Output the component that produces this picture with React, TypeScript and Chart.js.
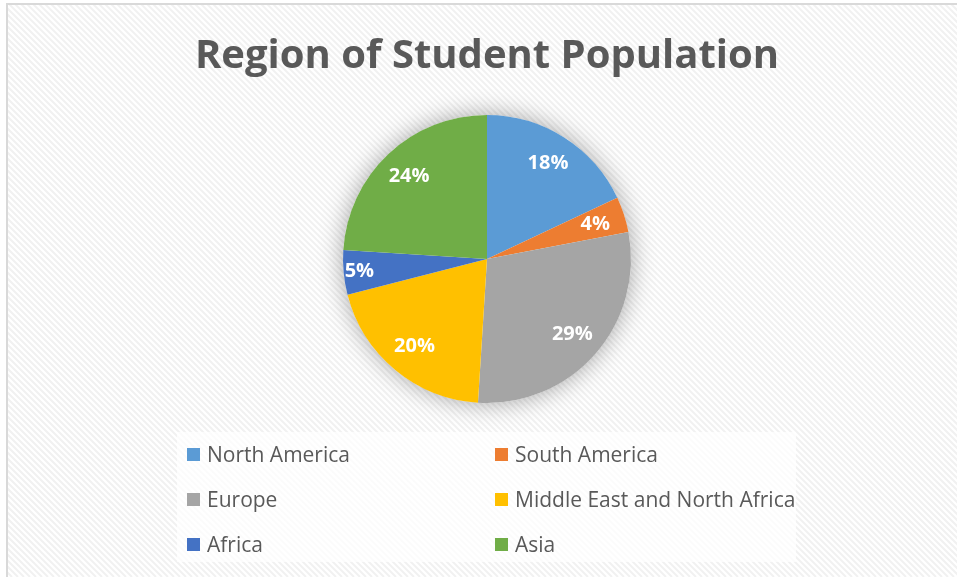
import React, { useEffect, useRef } from "react";
import { Chart, registerables } from "chart.js";

Chart.register(...registerables);

const chartTitle = "Region of Student Population";
const regions = [
  "North America",
  "South America",
  "Europe",
  "Middle East and North Africa",
  "Africa",
  "Asia",
];
const shares = [18, 4, 29, 20, 5, 24];
const sliceColors = ["#5B9BD5", "#ED7D31", "#A5A5A5", "#FFC000", "#4472C4", "#70AD47"];

const W = 957;
const H = 577;

const backgroundPlugin = {
  id: "excelBackground",
  beforeDraw(chart: any) {
    const { ctx, width, height } = chart;
    ctx.save();
    ctx.fillStyle = "#ffffff";
    ctx.fillRect(0, 0, width, height);
    ctx.beginPath();
    ctx.rect(7, 4, width, height);
    ctx.clip();
    ctx.strokeStyle = "#f1f1f1";
    ctx.lineWidth = 2;
    ctx.beginPath();
    for (let x = -height; x < width + 10; x += 6) {
      ctx.moveTo(x, 0);
      ctx.lineTo(x + height, height);
    }
    ctx.stroke();
    ctx.restore();
    ctx.save();
    ctx.fillStyle = "#d9d9d9";
    ctx.fillRect(6, 3, 2, height);
    ctx.fillRect(6, 3, width, 2);
    ctx.restore();
  },
  beforeDatasetsDraw(chart: any) {
    const arc = chart.getDatasetMeta(0).data[0];
    if (!arc) return;
    const { x, y, outerRadius } = arc.getProps(["x", "y", "outerRadius"], true);
    const { ctx } = chart;
    ctx.save();
    ctx.shadowColor = "rgba(0,0,0,0.35)";
    ctx.shadowBlur = 24;
    ctx.fillStyle = "#ffffff";
    ctx.beginPath();
    ctx.arc(x, y, outerRadius, 0, Math.PI * 2);
    ctx.fill();
    ctx.restore();
  },
  afterDatasetsDraw(chart: any) {
    const { ctx } = chart;
    const data: number[] = chart.data.datasets[0].data;
    const total = data.reduce((a, b) => a + b, 0);
    const meta = chart.getDatasetMeta(0);
    ctx.save();
    ctx.fillStyle = "#ffffff";
    ctx.font = "bold 20px 'Open Sans'";
    ctx.textAlign = "center";
    ctx.textBaseline = "middle";
    meta.data.forEach((arc: any, i: number) => {
      const { x, y, startAngle, endAngle, outerRadius } = arc.getProps(
        ["x", "y", "startAngle", "endAngle", "outerRadius"],
        true
      );
      const mid = (startAngle + endAngle) / 2;
      const pct = data[i] / total;
      const r = outerRadius * (pct < 0.045 || pct > 0.055 ? 0.79 : 0.89);
      ctx.fillText(Math.round(pct * 100) + "%", x + Math.cos(mid) * r, y + Math.sin(mid) * r);
    });
    ctx.restore();
  },
  afterDraw(chart: any) {
    const { ctx, chartArea } = chart;
    const cx = (chartArea.left + chartArea.right) / 2;
    ctx.save();
    // title
    ctx.fillStyle = "#595959";
    ctx.font = "bold 40px 'Open Sans'";
    ctx.textAlign = "center";
    ctx.textBaseline = "alphabetic";
    ctx.fillText(chartTitle, cx, 68);
    // legend
    ctx.fillStyle = "rgba(255,255,255,0.7)";
    ctx.fillRect(177, 432, 619, 130);
    ctx.font = "21px 'Open Sans'";
    ctx.textAlign = "left";
    const labels: string[] = chart.data.labels;
    const colors: string[] = chart.data.datasets[0].backgroundColor;
    labels.forEach((label, i) => {
      const col = i % 2;
      const row = Math.floor(i / 2);
      const x = 187 + col * 308;
      const base = 462 + row * 45;
      ctx.fillStyle = colors[i];
      ctx.fillRect(x, base - 14, 13, 13);
      ctx.fillStyle = "#595959";
      ctx.fillText(label, x + 20, base);
    });
    ctx.restore();
  },
};

export default function App() {
  const canvasRef = useRef<HTMLCanvasElement | null>(null);

  useEffect(() => {
    if (!canvasRef.current) return;
    const chart = new Chart(canvasRef.current, {
      type: "pie",
      data: {
        labels: regions,
        datasets: [
          {
            data: shares,
            backgroundColor: sliceColors,
            borderWidth: 0,
          },
        ],
      },
      options: {
        responsive: false,
        animation: false,
        events: [],
        layout: { padding: { top: 115, bottom: 174, left: 17, right: 0 } },
        plugins: {
          legend: { display: false },
          title: { display: false },
          tooltip: { enabled: false },
        },
      },
      plugins: [backgroundPlugin],
    });
    return () => chart.destroy();
  }, []);

  return (
    <div style={{ position: "fixed", left: 0, top: 0, width: W, height: H }}>
      <canvas ref={canvasRef} width={W} height={H} style={{ display: "block" }} />
    </div>
  );
}
